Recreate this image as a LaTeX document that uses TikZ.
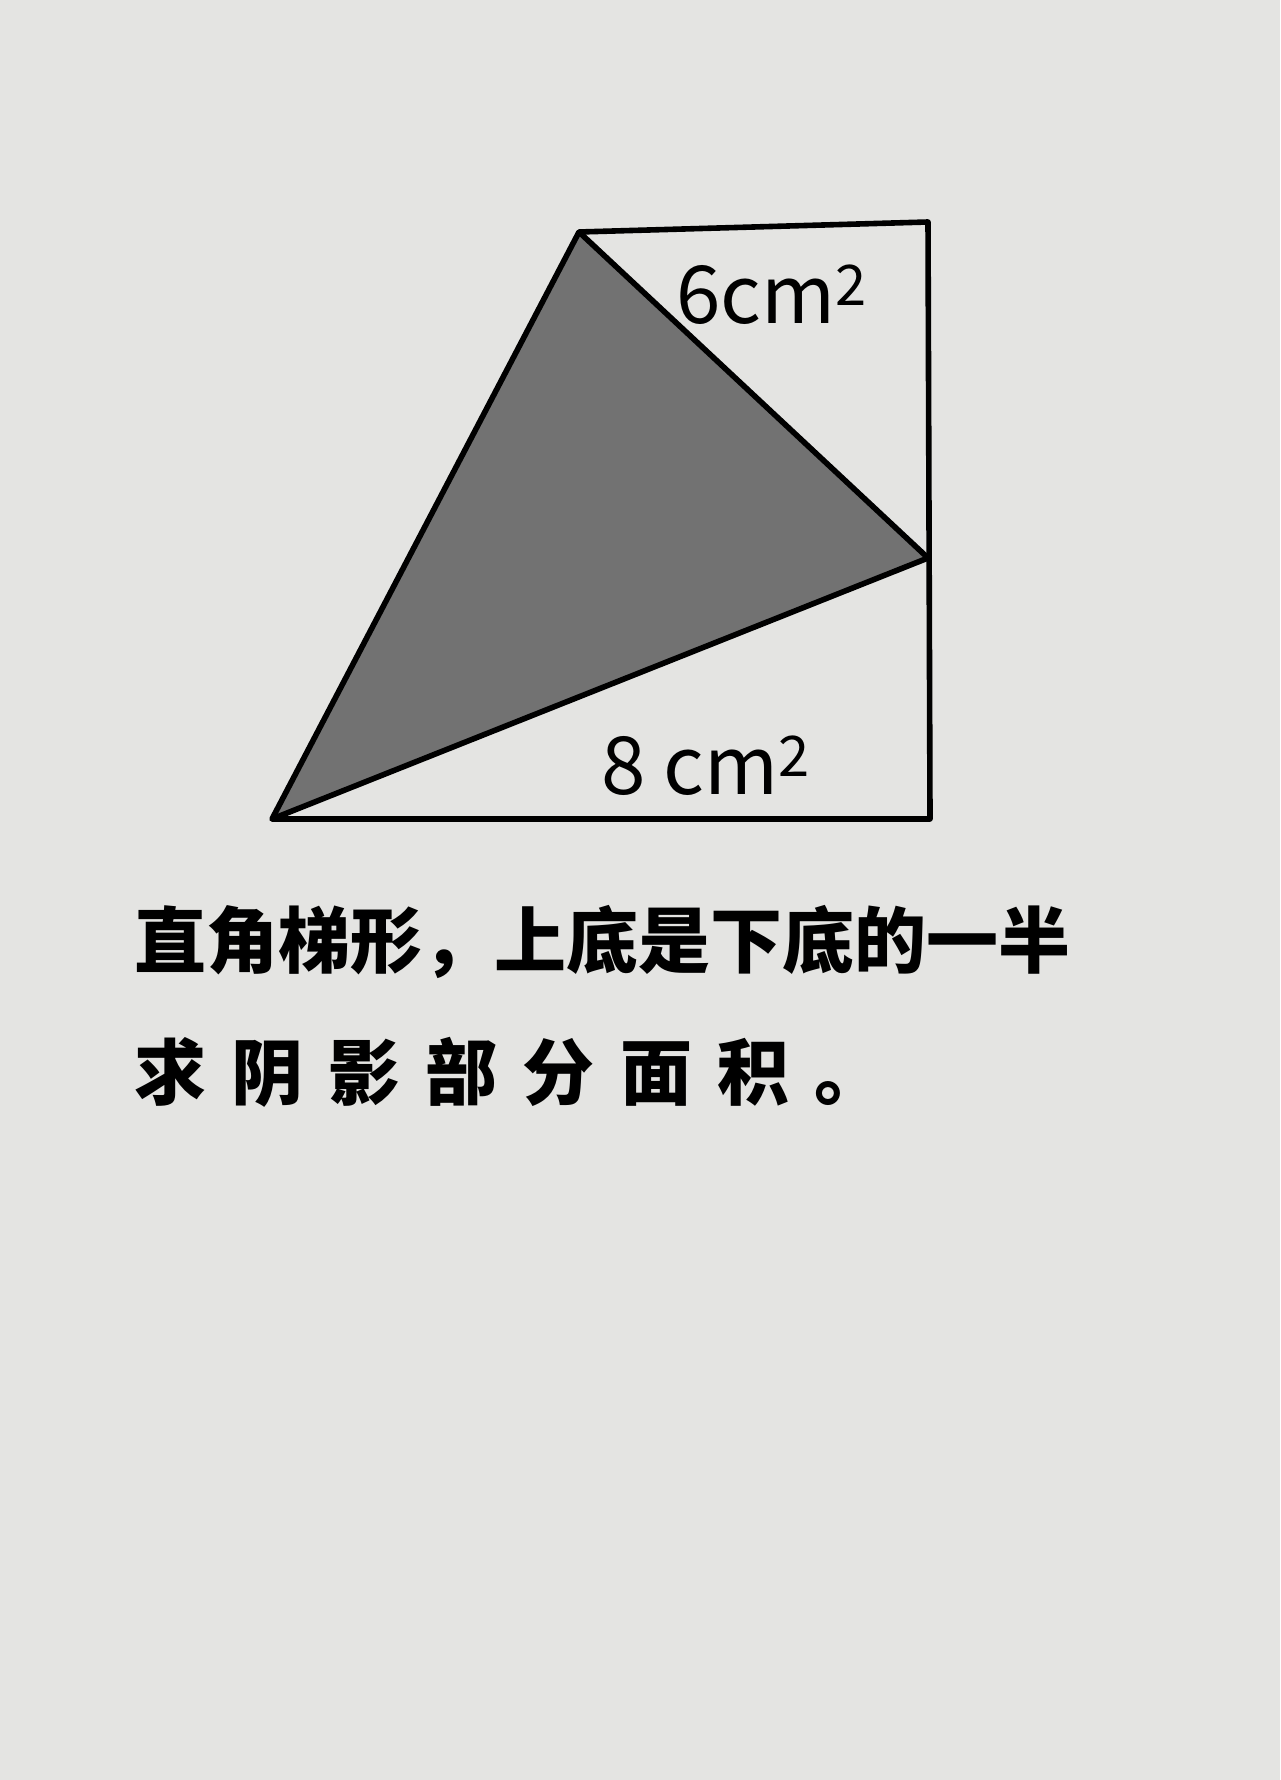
\documentclass[tikz,border=0pt]{standalone}
\usepackage{fontspec}
\setmainfont{Noto Sans CJK SC}
\newfontfamily\cjk{Noto Sans CJK SC}
\definecolor{paper}{HTML}{E4E4E2}
\definecolor{pencil}{HTML}{727272}

\begin{document}
\begin{tikzpicture}[x=0.5pt,y=-0.5pt,line join=round,
	edge line/.style={draw=black,line width=2.8pt},
	area label/.style={inner sep=0pt,font=\fontsize{40}{44}\selectfont},
	text line/.style={anchor=west,inner sep=0pt,font=\cjk\bfseries\fontsize{36}{40}\selectfont}]

	\fill[paper] (0,0) rectangle (1280,1780);

	% trapezoid corners
	\coordinate (A) at (579,232);
	\coordinate (D) at (928,222);
	\coordinate (E) at (928,558);
	\coordinate (C) at (930,819);
	\coordinate (B) at (272,819);

	\fill[pencil] (A) -- (E) -- (B) -- cycle;
	\draw[edge line] (A) -- (D) -- (C) -- (B) -- cycle;
	\draw[edge line] (A) -- (E) -- (B);

	\node[area label] (top) at (772,295) {6cm\textsuperscript{2}};
	\node[area label] (bottom) at (706,766) {8 cm\textsuperscript{2}};

	\node[text line] (line1) at (134,942) {直角梯形，上底是下底的一半};
	\node[text line] (line2) at (134,1072) {\makebox[376pt][s]{求\hfill 阴\hfill 影\hfill 部\hfill 分\hfill 面\hfill 积\hfill 。}};

\end{tikzpicture}
\end{document}
